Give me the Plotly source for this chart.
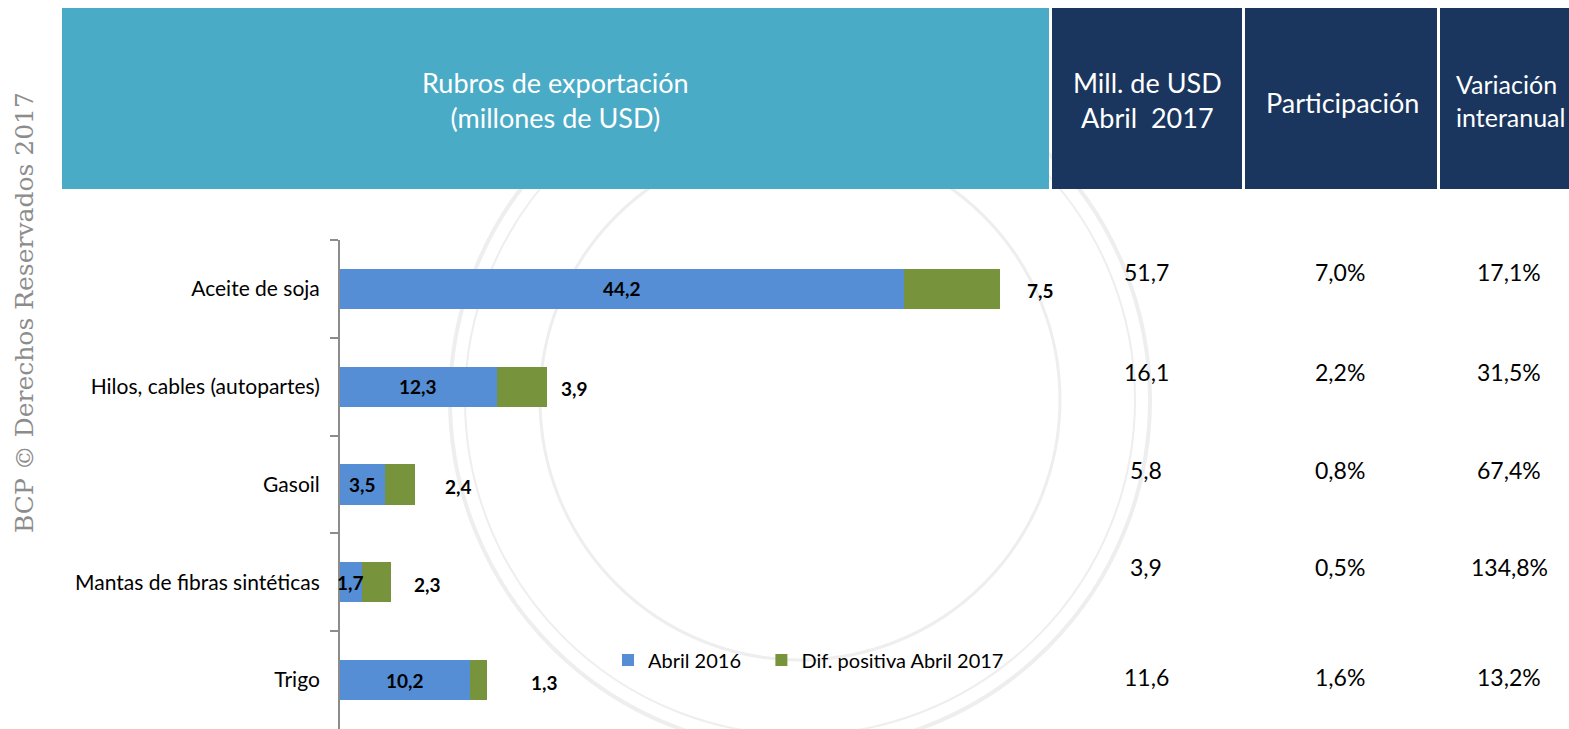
import plotly.graph_objects as go

W, H = 1569, 729

# ---------------- data ----------------
categories = ["Aceite de soja", "Hilos, cables (autopartes)", "Gasoil",
              "Mantas de fibras sintéticas", "Trigo"]
abril_2016 = [44.2, 12.3, 3.5, 1.7, 10.2]
dif_positiva_2017 = [7.5, 3.9, 2.4, 2.3, 1.3]
abril_2016_txt = ["44,2", "12,3", "3,5", "1,7", "10,2"]
dif_txt = ["7,5", "3,9", "2,4", "2,3", "1,3"]

mill_usd_2017 = ["51,7", "16,1", "5,8", "3,9", "11,6"]
participacion = ["7,0%", "2,2%", "0,8%", "0,5%", "1,6%"]
variacion = ["17,1%", "31,5%", "67,4%", "134,8%", "13,2%"]

header_main = "Rubros de exportación<br>(millones de USD)"
header_cols = ["Mill. de USD<br>Abril  2017", "Participación", "Variación<br>interanual"]
series_names = ["Abril 2016", "Dif. positiva Abril 2017"]
watermark = "BCP © Derechos Reservados 2017"

# ---------------- style ----------------
BLUE = "#558ED5"
GREEN = "#77933C"
TEAL = "#4AABC6"
NAVY = "#1A365E"
FONT = "Lato"
label_shift_px = [41, 28, 43, 36, 58]     # green label offsets right of bar end
table_yshift_px = [17, 15, 15, 15, 3]
col_x_px = [1146, 1340, 1509]
legend_pad = "\u00a0\u00a0\u00a0"


def px(x):
    return x / W


def py(y):
    return 1 - y / H


fig = go.Figure()
fig.add_trace(go.Bar(y=categories, x=abril_2016, orientation="h",
                     name=series_names[0] + legend_pad,
                     marker=dict(color=BLUE, line=dict(width=0)), hoverinfo="x+y"))
fig.add_trace(go.Bar(y=categories, x=dif_positiva_2017, orientation="h",
                     name=series_names[1],
                     marker=dict(color=GREEN, line=dict(width=0)), hoverinfo="x+y"))

ann = []
for i, c in enumerate(categories):
    ann.append(dict(x=abril_2016[i] / 2, y=c, xref="x", yref="y", text=abril_2016_txt[i],
                    showarrow=False, xanchor="center", yanchor="middle",
                    font=dict(family=FONT, size=19, color="black", weight="bold")))
    ann.append(dict(x=abril_2016[i] + dif_positiva_2017[i], y=c, xref="x", yref="y",
                    text=dif_txt[i], showarrow=False, xanchor="center", yanchor="middle",
                    xshift=label_shift_px[i], yshift=-2,
                    font=dict(family=FONT, size=19, color="black", weight="bold")))
    for j, col in enumerate([mill_usd_2017, participacion, variacion]):
        ann.append(dict(x=px(col_x_px[j]), y=c, xref="paper", yref="y", text=col[i],
                        showarrow=False, xanchor="center", yanchor="middle",
                        yshift=table_yshift_px[i],
                        font=dict(family=FONT, size=23, color="black")))

# headers
ann.append(dict(x=px(555), y=py(100), xref="paper", yref="paper", text=header_main,
                showarrow=False, xanchor="center", yanchor="middle",
                font=dict(family=FONT, size=27, color="white")))
ann.append(dict(x=px(1147), y=py(100), xref="paper", yref="paper", text=header_cols[0],
                showarrow=False, xanchor="center", yanchor="middle",
                font=dict(family=FONT, size=27, color="white")))
ann.append(dict(x=px(1342), y=py(102), xref="paper", yref="paper", text=header_cols[1],
                showarrow=False, xanchor="center", yanchor="middle",
                font=dict(family=FONT, size=27, color="white")))
ann.append(dict(x=px(1454), y=py(100), xref="paper", yref="paper", text=header_cols[2],
                showarrow=False, xanchor="left", yanchor="middle", align="left",
                font=dict(family=FONT, size=25, color="white")))
# vertical watermark
ann.append(dict(x=px(24), y=py(313), xref="paper", yref="paper", text=watermark,
                showarrow=False, textangle=-90, xanchor="center", yanchor="middle",
                font=dict(family="DejaVu Serif", size=25, color="#8C8C8C")))

shapes = []
# faint seal watermark
for (r, w) in [(350, 4), (335, 2), (260, 3)]:
    cx, cy = 800, 400
    shapes.append(dict(type="circle", xref="paper", yref="paper", layer="below",
                       x0=px(cx - r), x1=px(cx + r), y0=py(cy + r), y1=py(cy - r),
                       line=dict(color="#EEEEEE", width=w)))
# header boxes
shapes.append(dict(type="rect", xref="paper", yref="paper", x0=px(62), x1=px(1049),
                   y0=py(189), y1=py(8), fillcolor=TEAL, line=dict(width=0)))
for (a, b) in [(1052, 1242), (1245, 1437), (1440, 1575)]:
    shapes.append(dict(type="rect", xref="paper", yref="paper", x0=px(a), x1=px(b),
                       y0=py(189), y1=py(8), fillcolor=NAVY, line=dict(width=0)))

x_px_per_unit = 12.76
x_max = 55
fig.update_layout(
    width=W, height=H,
    margin=dict(l=0, r=0, t=0, b=0),
    paper_bgcolor="white", plot_bgcolor="rgba(0,0,0,0)",
    barmode="stack", bargap=0.59,
    showlegend=True,
    legend=dict(orientation="h", x=px(608), y=py(660), xanchor="left", yanchor="middle",
                font=dict(family=FONT, size=20, color="black"), bgcolor="rgba(0,0,0,0)",
                itemwidth=30, traceorder="normal"),
    xaxis=dict(domain=[px(340), px(340 + x_max * x_px_per_unit)], range=[0, x_max],
               showgrid=False, zeroline=False, showticklabels=False, showline=False,
               fixedrange=True),
    yaxis=dict(domain=[0, py(240)], categoryorder="array", categoryarray=categories,
               autorange="reversed", type="category",
               showline=True, linecolor="#8C8C8C", linewidth=2,
               ticks="outside", tickson="boundaries", ticklen=8, tickcolor="#8C8C8C",
               tickwidth=2, ticklabelstandoff=14,
               tickfont=dict(family=FONT, size=21, color="black"),
               showgrid=False, fixedrange=True),
    annotations=ann,
    shapes=shapes,
    font=dict(family=FONT),
)

fig.write_html("out.html",
               config={"displayModeBar": False},
               post_script="document.body.style.margin='0';"
                           "document.body.style.overflow='hidden';")
